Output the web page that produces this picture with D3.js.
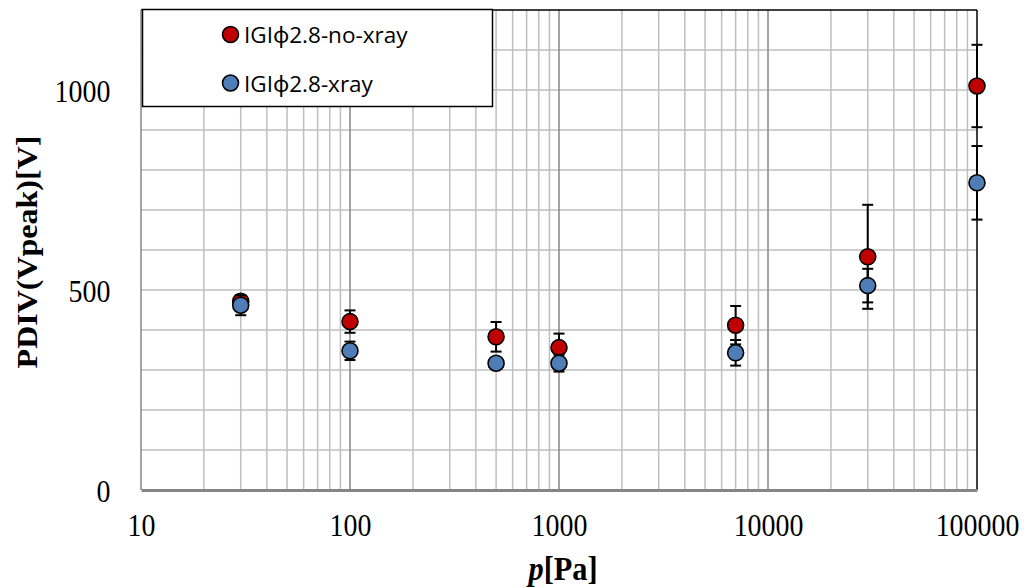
<!DOCTYPE html>
<html>
<head>
<meta charset="utf-8">
<script src="https://cdn.jsdelivr.net/npm/d3@7"></script>
<style>
  html, body { margin: 0; padding: 0; background: #ffffff; }
  svg { display: block; }
</style>
</head>
<body>
<svg id="chart" width="1031" height="588"></svg>
<script>
// Pressure points [Pa]
const pressure = [30, 100, 500, 1000, 7000, 30000, 100000];
// PDIV without x-ray irradiation [Vpeak] and its spread
const noXray    = [472, 421, 383, 356, 412, 583, 1010];
const noXrayErr = [8, 28, 37, 35, 48, 130, 103];
// PDIV with x-ray irradiation [Vpeak] and its spread
const xray      = [462, 348, 317, 317, 343, 511, 768];
const xrayErr   = [25, 23, 10, 21, 32, 42, 92];

const xTicks = [10, 100, 1000, 10000, 100000];
const yTicks = [0, 500, 1000];
const seriesNames = ["IGI\u03d52.8-no-xray", "IGI\u03d52.8-xray"];
const seriesColors = ["#C00000", "#4F7DB8"];

const margin = { left: 141, right: 54, top: 10, bottom: 98 };
const W = 1031, H = 588;
const iw = W - margin.left - margin.right;
const ih = H - margin.top - margin.bottom;

const svg = d3.select("#chart");
const g = svg.append("g").attr("transform", `translate(${margin.left},${margin.top})`);

const x = d3.scaleLog().domain([10, 100000]).range([0, iw]);
const y = d3.scaleLinear().domain([0, 1200]).range([ih, 0]);

// horizontal gridlines every 100 V
g.append("g").selectAll("line")
  .data(d3.range(100, 1200, 100))
  .join("line")
  .attr("x1", 0).attr("x2", iw)
  .attr("y1", d => y(d)).attr("y2", d => y(d))
  .attr("stroke", "#BFBFBF").attr("stroke-width", 1.5);

// minor vertical gridlines (2..9 per decade)
const minor = [];
for (let dec = 10; dec < 100000; dec *= 10)
  for (let k = 2; k <= 9; k++) minor.push(dec * k);
g.append("g").selectAll("line")
  .data(minor)
  .join("line")
  .attr("x1", d => x(d)).attr("x2", d => x(d))
  .attr("y1", 0).attr("y2", ih)
  .attr("stroke", "#BFBFBF").attr("stroke-width", 1.5);

// major vertical gridlines at each decade
g.append("g").selectAll("line")
  .data([100, 1000, 10000])
  .join("line")
  .attr("x1", d => x(d)).attr("x2", d => x(d))
  .attr("y1", 0).attr("y2", ih)
  .attr("stroke", "#868686").attr("stroke-width", 1.5);

// plot frame: top/right black, left grey
g.append("line").attr("x1", 0).attr("x2", iw).attr("y1", 0).attr("y2", 0)
  .attr("stroke", "#000").attr("stroke-width", 1.5);
g.append("line").attr("x1", iw).attr("x2", iw).attr("y1", 0).attr("y2", ih)
  .attr("stroke", "#000").attr("stroke-width", 1.5);
g.append("line").attr("x1", 0).attr("x2", 0).attr("y1", 0).attr("y2", ih)
  .attr("stroke", "#868686").attr("stroke-width", 1.5);

// x axis
const xAxis = g.append("g")
  .attr("transform", `translate(0,${ih})`)
  .call(d3.axisBottom(x).tickValues(xTicks).tickFormat(d3.format("d")).tickSize(0));
xAxis.select(".domain").attr("stroke", "#858585").attr("stroke-width", 3);
xAxis.selectAll("text")
  .attr("y", 46).attr("dy", 0)
  .attr("font-family", "'Liberation Serif', 'Times New Roman', serif")
  .attr("font-size", 31).attr("fill", "#000")
  .attr("transform", "scale(0.9,1)");

// y axis
const yAxis = g.append("g")
  .call(d3.axisLeft(y).tickValues(yTicks).tickFormat(d3.format("d")).tickSize(0));
yAxis.select(".domain").remove();
yAxis.selectAll("text")
  .attr("x", -34).attr("dy", "0.36em")
  .attr("font-family", "'Liberation Serif', 'Times New Roman', serif")
  .attr("font-size", 31).attr("fill", "#000")
  .attr("transform", "scale(0.9,1)");

// axis titles
const xt = svg.append("text")
  .attr("transform", `translate(563,580) scale(0.92,1)`)
  .attr("text-anchor", "middle")
  .attr("font-family", "'Liberation Serif', 'Times New Roman', serif")
  .attr("font-size", 33).attr("font-weight", "bold");
xt.append("tspan").attr("font-style", "italic").text("p");
xt.append("tspan").text("[Pa]");

svg.append("text")
  .attr("transform", `translate(37,252) rotate(-90) scale(0.97,0.9)`)
  .attr("text-anchor", "middle")
  .attr("font-family", "'Liberation Serif', 'Times New Roman', serif")
  .attr("font-size", 33).attr("font-weight", "bold")
  .text("PDIV(Vpeak)[V]");

// series: error bars then markers, drawn series by series
const series = [
  { vals: noXray, errs: noXrayErr, color: seriesColors[0] },
  { vals: xray, errs: xrayErr, color: seriesColors[1] }
];
const cap = 5.5;
series.forEach(s => {
  const pts = pressure.map((p, i) => ({ p, v: s.vals[i], e: s.errs[i] }));
  const eb = g.append("g").selectAll("g").data(pts).join("g")
    .attr("stroke", "#000").attr("stroke-width", 2);
  eb.append("line")
    .attr("x1", d => x(d.p)).attr("x2", d => x(d.p))
    .attr("y1", d => y(d.v + d.e)).attr("y2", d => y(d.v - d.e));
  eb.append("line")
    .attr("x1", d => x(d.p) - cap).attr("x2", d => x(d.p) + cap)
    .attr("y1", d => y(d.v + d.e)).attr("y2", d => y(d.v + d.e));
  eb.append("line")
    .attr("x1", d => x(d.p) - cap).attr("x2", d => x(d.p) + cap)
    .attr("y1", d => y(d.v - d.e)).attr("y2", d => y(d.v - d.e));
  g.append("g").selectAll("circle").data(pts).join("circle")
    .attr("cx", d => x(d.p)).attr("cy", d => y(d.v))
    .attr("r", 8)
    .attr("fill", s.color).attr("stroke", "#000").attr("stroke-width", 1.6);
});

// legend
const lg = svg.append("g");
lg.append("rect")
  .attr("x", 142.5).attr("y", 9.5).attr("width", 350).attr("height", 97)
  .attr("fill", "#fff").attr("stroke", "#000").attr("stroke-width", 1.5);
const legendRows = [34.5, 83];
seriesNames.forEach((name, i) => {
  lg.append("circle")
    .attr("cx", 230.5).attr("cy", legendRows[i]).attr("r", 8)
    .attr("fill", seriesColors[i]).attr("stroke", "#000").attr("stroke-width", 1.6);
  lg.append("text")
    .attr("x", 244).attr("y", legendRows[i] + 8.5)
    .attr("font-family", "'Open Sans', 'Noto Sans', sans-serif")
    .attr("font-size", 22.5).attr("fill", "#000")
    .text(name);
});
</script>
</body>
</html>
